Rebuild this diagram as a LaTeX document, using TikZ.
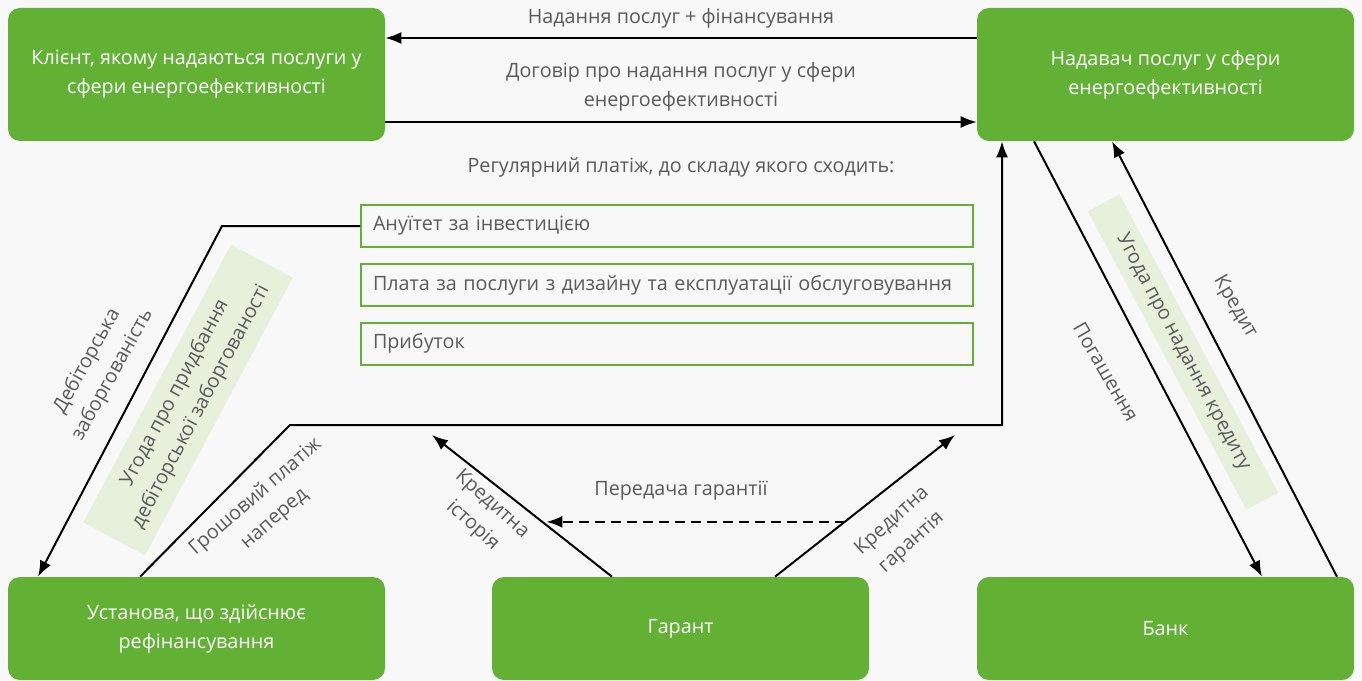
\documentclass[tikz,border=0pt]{standalone}
\usepackage{fontspec}
\setmainfont{Open Sans}
\usetikzlibrary{arrows.meta,positioning,calc}
\definecolor{esGreen}{HTML}{62B135}
\definecolor{esPale}{HTML}{E6F0DA}
\definecolor{esGray}{HTML}{5A5A5A}
\definecolor{esBack}{HTML}{F8F8F8}
\newcommand{\esfont}{\fontsize{14.8}{21.75}\selectfont}
\begin{document}
\begin{tikzpicture}[x=0.75pt,y=-0.75pt,font=\esfont,
  party/.style={fill=esGreen,rounded corners=9pt,text=white,align=center,minimum width=282.75pt},
  item/.style={draw=esGreen,line width=1.5pt,fill=esBack,text=esGray,anchor=west,align=left,minimum width=459pt,minimum height=31.5pt,inner xsep=9pt,text width=441pt},
  lbl/.style={text=esGray,align=center,inner sep=1pt},
  deal/.style={fill=esPale,text=esGray,align=center},
  flow/.style={-{Latex[length=12pt,width=9pt]},line width=1.5pt},
  guar/.style={flow,dashed,dash pattern=on 7pt off 5pt}]
  \fill[esBack] (0,0) rectangle (1362,681);
  % parties
  \node[party,minimum height=99.75pt] (client) at (196.5,74.5) {Клієнт, якому надаються послуги у\\сфери енергоефективності};
  \node[party,minimum height=99.75pt] (provider) at (1165.5,74.5) {Надавач послуг у сфери\\енергоефективності};
  \node[party,minimum height=77.25pt] (refin) at (196.5,628.5) {Установа, що здійснює\\рефінансування};
  \node[party,minimum height=77.25pt] (guarant) at (680.5,628.5) {Гарант};
  \node[party,minimum height=77.25pt] (bank) at (1165.5,628.5) {Банк};
  % regular payment
  \node[lbl] (regular) at (681,167) {Регулярний платіж, до складу якого сходить:};
  \node[item] (annuity) at (360,226) {Ануїтет за інвестицією};
  \node[item] (fee) at (360,285) {Плата за послуги з дизайну та експлуатації обслуговування};
  \node[item] (profit) at (360,343.5) {Прибуток};
  % client <-> provider
  \draw[flow] (provider.west|-0,38) -- (client.east|-0,38);
  \node[lbl] (finLbl) at (681,18) {Надання послуг + фінансування};
  \draw[flow] (client.east|-0,122) -- (provider.west|-0,122);
  \node[lbl] (contractLbl) at (681,87) {Договір про надання послуг у сфери\\енергоефективності};
  % refinancing
  \draw[flow] (annuity.west) -- (222,226) -- (refin.north-|38,0);
  \draw[flow] (refin.north-|140,0) -- (290,425) -- (1002,425) -- (provider.south-|1002,0);
  \node[lbl,rotate=61] (debtLbl) at (100,368) {Дебіторська\\заборгованість};
  \node[deal,rotate=62,minimum width=236pt,minimum height=52.5pt] (debtDeal) at (188,400) {Угода про придбання\\дебіторської заборгованості};
  \node[lbl,rotate=41] (cashLbl) at (265,508) {Грошовий платіж\\наперед};
  % guarantor
  \draw[flow] (guarant.north-|612,0) -- coordinate[pos=0.387] (gL) (432,435);
  \draw[flow] (guarant.north-|775,0) -- coordinate[pos=0.387] (gR) (955,435);
  \draw[guar] (gR) -- ([xshift=3]gL);
  \node[lbl] (passLbl) at (681,491) {Передача гарантії};
  \node[lbl,rotate=-42] (histLbl) at (482,515) {Кредитна\\історія};
  \node[lbl,rotate=42] (guarLbl) at (902,532) {Кредитна\\гарантія};
  % bank
  \draw[flow] (provider.south-|1034,0) -- (bank.north-|1262,0);
  \draw[flow] (bank.north-|1337,0) -- (provider.south-|1112,0);
  \node[deal,rotate=-62,minimum width=253.5pt,minimum height=27pt] (creditDeal) at (1183,352) {Угода про надання кредиту};
  \node[lbl,rotate=-60] (repayLbl) at (1106,372) {Погашення};
  \node[lbl,rotate=-60] (creditLbl) at (1235,307) {Кредит};
\end{tikzpicture}
\end{document}
